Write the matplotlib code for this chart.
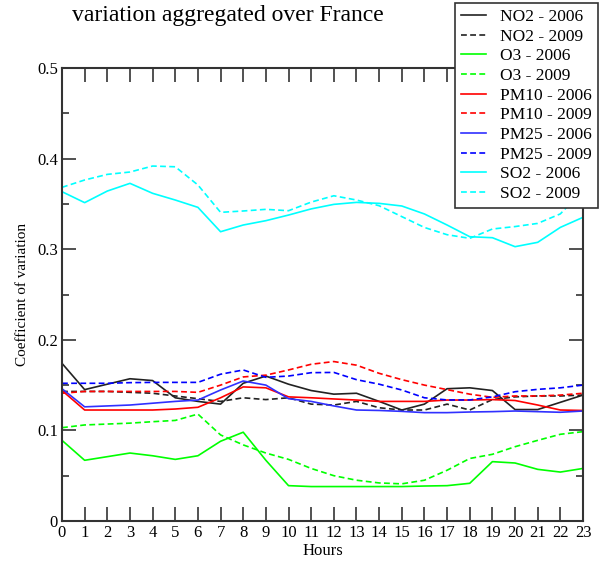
import numpy as np
import matplotlib
matplotlib.use("Agg")
from matplotlib import pyplot as plt
from matplotlib.ticker import MultipleLocator

plt.rcParams['font.family'] = ['Liberation Serif', 'DejaVu Serif']

hours = list(range(24))

no2_2006 = [0.174, 0.145, 0.151, 0.157, 0.155, 0.136, 0.132, 0.129, 0.152, 0.160, 0.151, 0.144,
            0.140, 0.141, 0.132, 0.1225, 0.129, 0.146, 0.147, 0.144, 0.123, 0.123, 0.131, 0.139]
no2_2009 = [0.143, 0.143, 0.143, 0.142, 0.141, 0.138, 0.135, 0.132, 0.136, 0.134, 0.136, 0.129,
            0.128, 0.132, 0.125, 0.1225, 0.1225, 0.129, 0.1225, 0.134, 0.137, 0.138, 0.138, 0.139]
o3_2006 = [0.089, 0.067, 0.071, 0.075, 0.072, 0.068, 0.072, 0.088, 0.098, 0.067, 0.039, 0.038,
           0.038, 0.038, 0.038, 0.038, 0.0386, 0.039, 0.0416, 0.0655, 0.064, 0.057, 0.054, 0.058]
o3_2009 = [0.103, 0.106, 0.107, 0.108, 0.1096, 0.111, 0.118, 0.095, 0.084, 0.075, 0.068, 0.058,
           0.050, 0.045, 0.042, 0.041, 0.045, 0.056, 0.069, 0.0736, 0.082, 0.089, 0.0957, 0.0986]
pm10_2006 = [0.144, 0.1225, 0.1225, 0.1225, 0.1225, 0.1236, 0.1255, 0.136, 0.148, 0.147, 0.137, 0.136,
             0.1347, 0.1335, 0.132, 0.132, 0.132, 0.1335, 0.1335, 0.134, 0.133, 0.128, 0.1225, 0.122]
pm10_2009 = [0.141, 0.143, 0.143, 0.143, 0.143, 0.143, 0.142, 0.150, 0.159, 0.161, 0.1667, 0.173,
             0.176, 0.172, 0.163, 0.156, 0.150, 0.145, 0.140, 0.1365, 0.138, 0.138, 0.139, 0.141]
pm25_2006 = [0.146, 0.126, 0.127, 0.128, 0.130, 0.132, 0.1335, 0.1446, 0.1545, 0.150, 0.135, 0.132,
             0.127, 0.1225, 0.122, 0.121, 0.1196, 0.1196, 0.1203, 0.1207, 0.1214, 0.1207, 0.120, 0.1214]
pm25_2009 = [0.152, 0.152, 0.152, 0.1527, 0.153, 0.153, 0.153, 0.162, 0.1667, 0.1586, 0.160, 0.1637,
             0.164, 0.156, 0.151, 0.1446, 0.136, 0.1336, 0.1336, 0.137, 0.1427, 0.1453, 0.147, 0.150]
so2_2006 = [0.3635, 0.3514, 0.3642, 0.3727, 0.3617, 0.3543, 0.3462, 0.3193, 0.3267, 0.3315, 0.3377, 0.3445,
            0.3495, 0.3517, 0.3506, 0.3477, 0.3389, 0.3267, 0.3138, 0.3127, 0.3028, 0.3076, 0.3241, 0.3352]
so2_2009 = [0.3683, 0.3764, 0.3826, 0.3852, 0.3918, 0.391, 0.3709, 0.3407, 0.3422, 0.344, 0.3425, 0.352,
            0.359, 0.3543, 0.348, 0.336, 0.324, 0.316, 0.312, 0.3223, 0.325, 0.3285, 0.339, 0.365]

series = [
    ("NO2 - 2006", no2_2006, "#222222", "-"),
    ("NO2 - 2009", no2_2009, "#222222", "--"),
    ("O3 - 2006", o3_2006, "#00ff00", "-"),
    ("O3 - 2009", o3_2009, "#00ff00", "--"),
    ("PM10 - 2006", pm10_2006, "#ff0000", "-"),
    ("PM10 - 2009", pm10_2009, "#ff0000", "--"),
    ("PM25 - 2006", pm25_2006, "#3030ff", "-"),
    ("PM25 - 2009", pm25_2009, "#0000ff", "--"),
    ("SO2 - 2006", so2_2006, "#00ffff", "-"),
    ("SO2 - 2009", so2_2009, "#00ffff", "--"),
]

fig = plt.figure(figsize=(5.99, 5.65), dpi=100)
ax = fig.add_axes([0.1035, 0.0779, 0.8698, 0.8017])

for name, vals, col, ls in series:
    if ls == "--":
        ax.plot(hours, vals, color=col, lw=1.2, linestyle=(0, (3.5, 2)), label=name)
    else:
        ax.plot(hours, vals, color=col, lw=1.2, label=name)

ax.set_xlim(0, 23)
ax.set_ylim(0, 0.5)
ax.set_xticks(hours)
ax.set_xticklabels([str(h) for h in hours])
ax.set_yticks([0, 0.1, 0.2, 0.3, 0.4, 0.5])
ax.set_yticklabels(["0", "0.1", "0.2", "0.3", "0.4", "0.5"])
ax.yaxis.set_minor_locator(MultipleLocator(0.05))
ax.tick_params(which="both", direction="in", top=True, right=True, labelsize=12, width=1.2, color="#333333")
ax.tick_params(which="major", length=10, pad=3)
ax.tick_params(which="minor", length=5)
for s in ax.spines.values():
    s.set_linewidth(1.5)
    s.set_color("#333333")

ax.set_xlabel("Hours", fontsize=12, labelpad=1)
ax.set_ylabel("Coefficient of variation", fontsize=11, labelpad=6)
fig.text(0.38, 0.972, "variation aggregated over France", fontsize=17, ha="center", va="center")

leg = ax.legend(loc="upper right", bbox_to_anchor=(598 / 599, 1 - 3 / 565),
                bbox_transform=fig.transFigure, borderaxespad=0, fontsize=12.5,
                fancybox=False, framealpha=1, edgecolor="#333333", handlelength=1.45,
                labelspacing=0.2, borderpad=0.35, handletextpad=0.8)
leg.get_frame().set_linewidth(1.2)

fig.savefig("out.png", dpi=100)
